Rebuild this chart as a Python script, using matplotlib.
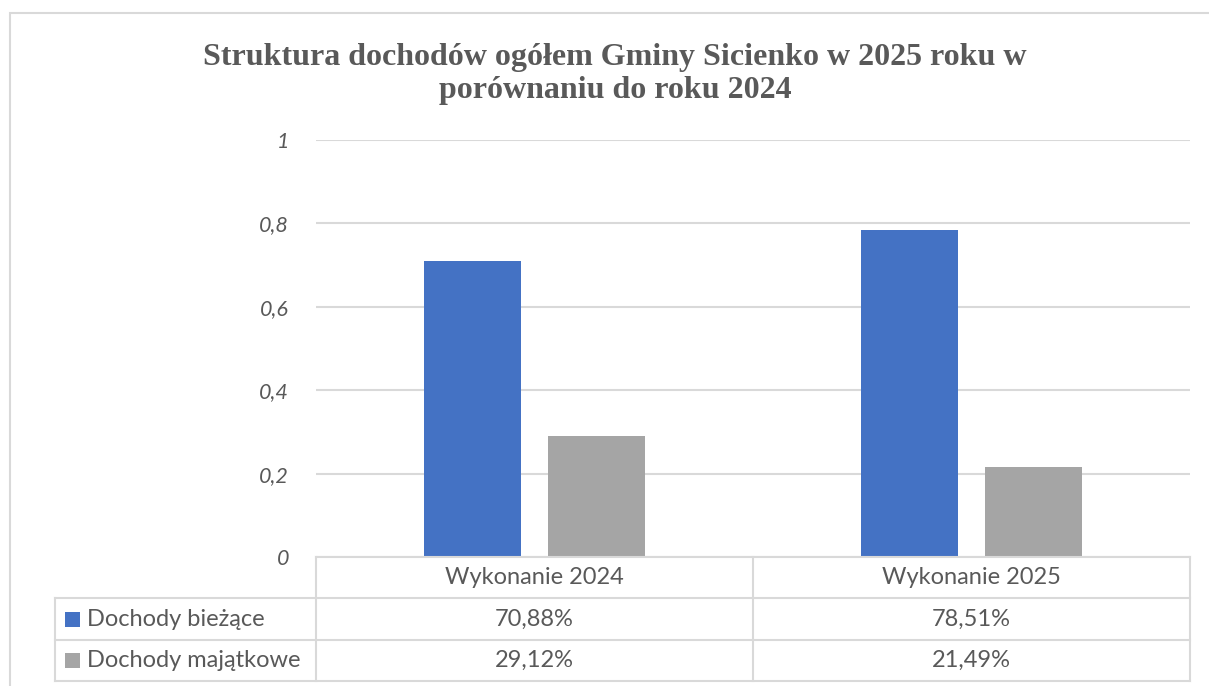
import matplotlib
matplotlib.use("Agg")
import matplotlib.pyplot as plt
from matplotlib.lines import Line2D
from matplotlib.patches import Rectangle
from matplotlib.ticker import FuncFormatter

title = "Struktura dochodów ogółem Gminy Sicienko w 2025 roku w\nporównaniu do roku 2024"
categories = ["Wykonanie 2024", "Wykonanie 2025"]
series_names = ["Dochody bieżące", "Dochody majątkowe"]
biezace = [0.7088, 0.7851]
majatkowe = [0.2912, 0.2149]
labels_biezace = ["70,88%", "78,51%"]
labels_majatkowe = ["29,12%", "21,49%"]
yticks = [0, 0.2, 0.4, 0.6, 0.8, 1.0]

colors = ["#4472C4", "#A5A5A5"]
grid_c = "#D9D9D9"
text_c = "#595959"
W, H = 1209, 686
font = "Lato"

fig = plt.figure(figsize=(W / 100, H / 100), dpi=100)
L, R, T, B = 316, 1190, 140, 557
ax = fig.add_axes([L / W, 1 - B / H, (R - L) / W, (B - T) / H])

x = list(range(len(categories)))
bw = 0.224
off = 0.142
ax.bar([i - off for i in x], biezace, width=bw, color=colors[0], zorder=3)
ax.bar([i + off for i in x], majatkowe, width=bw, color=colors[1], zorder=3)
ax.set_xlim(-0.5, len(categories) - 0.5)
ax.set_ylim(0, 1)
ax.set_yticks(yticks)
ax.yaxis.set_major_formatter(FuncFormatter(lambda v, p: ("%g" % v).replace(".", ",")))
ax.tick_params(axis="y", length=0, pad=19.5, labelsize=15.5, labelcolor=text_c)
for lab in ax.get_yticklabels():
    lab.set_fontstyle("italic")
    lab.set_family(font)
ax.set_xticks([])
ax.grid(axis="y", color=grid_c, linewidth=1.5, zorder=0)
for s in ax.spines.values():
    s.set_visible(False)

# figure title
fig.text(615 / W, 1 - 74 / H, title, ha="center", va="center",
         family="Liberation Serif", weight="bold", fontsize=23, color=text_c,
         linespacing=1.18)

# outer chart border
fig.add_artist(Rectangle((10 / W, -0.1), 1.2, 1.1 - 13 / H, transform=fig.transFigure,
                         fill=False, edgecolor=grid_c, linewidth=1.5))

# data table
def fx(px):
    return px / W

def fy(py):
    return 1 - py / H

rows_y = [557, 598, 640, 681]
tl = 55
cat_edges = [L, (L + R) / 2, R]
def hline(y, x0, x1):
    fig.add_artist(Line2D([fx(x0), fx(x1)], [fy(y), fy(y)], color=grid_c, lw=1.5))
def vline(xx, y0, y1):
    fig.add_artist(Line2D([fx(xx), fx(xx)], [fy(y0), fy(y1)], color=grid_c, lw=1.5))

hline(rows_y[0], L, R)
for y in rows_y[1:]:
    hline(y, tl, R)
vline(tl, rows_y[1], rows_y[3])
for xx in cat_edges:
    vline(xx, rows_y[0], rows_y[3])

fs_t = 17
for i, c in enumerate(categories):
    cx = (cat_edges[i] + cat_edges[i + 1]) / 2
    fig.text(fx(cx), fy((rows_y[0] + rows_y[1]) / 2), c, ha="center", va="center",
             family=font, fontsize=fs_t, color=text_c)
    fig.text(fx(cx), fy((rows_y[1] + rows_y[2]) / 2), labels_biezace[i], ha="center", va="center",
             family=font, fontsize=fs_t, color=text_c)
    fig.text(fx(cx), fy((rows_y[2] + rows_y[3]) / 2), labels_majatkowe[i], ha="center", va="center",
             family=font, fontsize=fs_t, color=text_c)

for r, (name, col) in enumerate(zip(series_names, colors)):
    cy = (rows_y[r + 1] + rows_y[r + 2]) / 2
    fig.add_artist(Rectangle((fx(65), fy(cy + 7.5)), 15 / W, 15 / H, transform=fig.transFigure,
                             facecolor=col, edgecolor="none"))
    fig.text(fx(87), fy(cy), name, ha="left", va="center", family=font,
             fontsize=fs_t, color=text_c)

fig.savefig("out.png", dpi=100)
